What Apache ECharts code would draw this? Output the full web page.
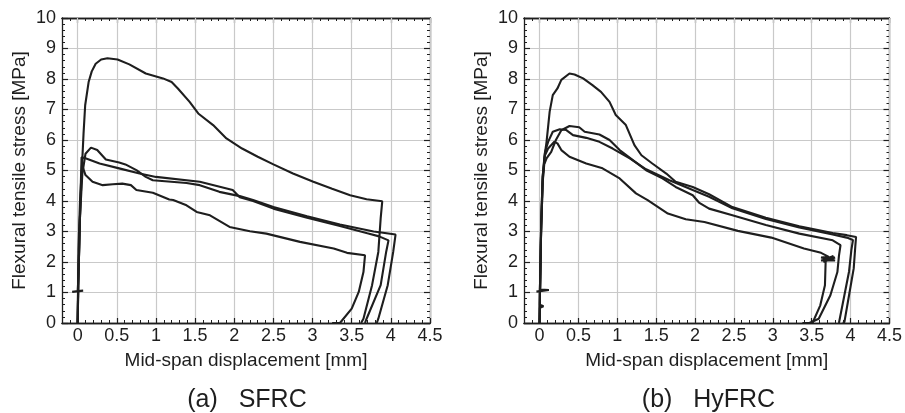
<!DOCTYPE html>
<html>
<head>
<meta charset="utf-8">
<script src="https://cdn.jsdelivr.net/npm/echarts@6/dist/echarts.min.js"></script>
<style>
html,body{margin:0;padding:0;background:#fff;}
#chart{width:905px;height:413px;}
</style>
</head>
<body>
<div id="chart"></div>
<script>
// ---------- axis ticks ----------
const xMajorTicks = [0, 0.5, 1, 1.5, 2, 2.5, 3, 3.5, 4, 4.5];
const xRange = [-0.2, 4.5];
const yRange = [0, 10];

// ---------- panel captions / names ----------
const panelCaptions = ['(a)   SFRC', '(b)   HyFRC'];
const xName = 'Mid-span displacement [mm]';
const yName = 'Flexural tensile stress [MPa]';

// ---------- (a) SFRC curves [displacement mm, stress MPa] ----------
const sfrc1 = [[0,0],[0.005,1.05],[0.01,2.4],[0.03,4.0],[0.054,5.07],[0.075,6.2],[0.096,7.14],[0.14,7.9],[0.18,8.25],[0.23,8.5],[0.3,8.64],[0.38,8.68],[0.51,8.64],[0.66,8.48],[0.87,8.18],[1.09,8.02],[1.2,7.9],[1.28,7.69],[1.43,7.25],[1.54,6.87],[1.73,6.49],[1.9,6.05],[2.1,5.72],[2.3,5.45],[2.5,5.2],[2.75,4.9],[3.01,4.63],[3.25,4.4],[3.48,4.19],[3.69,4.06],[3.89,3.99],[3.87,3.43],[3.84,2.33],[3.76,1.24],[3.65,0.14],[3.62,0]];
const sfrc2 = [[0,0],[0.01,1.5],[0.03,3.5],[0.06,4.9],[0.1,5.55],[0.17,5.75],[0.25,5.67],[0.36,5.36],[0.53,5.26],[0.61,5.2],[0.75,5.01],[0.87,4.79],[0.96,4.68],[1.39,4.59],[1.56,4.52],[1.81,4.3],[2.07,4.16],[2.24,4.03],[2.5,3.8],[2.93,3.5],[3.35,3.23],[3.78,3.0],[3.9,2.96],[4.06,2.9],[4.03,2.33],[3.96,1.24],[3.84,0.14],[3.82,0]];
const sfrc3 = [[0,0],[0.01,1.5],[0.03,3.5],[0.045,5.0],[0.05,5.43],[0.1,5.4],[0.28,5.23],[0.53,5.07],[0.79,4.9],[1.0,4.79],[1.56,4.63],[1.98,4.36],[2.07,4.12],[2.24,4.0],[2.5,3.75],[2.93,3.45],[3.35,3.18],[3.7,2.94],[3.85,2.84],[3.97,2.71],[3.94,2.33],[3.87,1.24],[3.69,0.14],[3.67,0]];
const sfrc4 = [[0,0],[0.005,1.05],[-0.07,1.02],[0.07,1.06],[0.0,1.05],[0.01,1.5],[0.03,3.5],[0.05,4.8],[0.06,5.15],[0.1,4.85],[0.19,4.63],[0.32,4.52],[0.45,4.55],[0.57,4.57],[0.68,4.52],[0.75,4.36],[0.96,4.27],[1.17,4.05],[1.22,4.03],[1.39,3.86],[1.52,3.64],[1.69,3.53],[1.94,3.15],[2.2,3.01],[2.41,2.93],[2.84,2.66],[3.27,2.44],[3.44,2.3],[3.67,2.22],[3.65,1.67],[3.59,1.02],[3.5,0.47],[3.35,0],[3.25,0]];

// ---------- (b) HyFRC curves [displacement mm, stress MPa] ----------
const hyfrc1 = [[0,0],[0.005,1.1],[0.015,2.5],[0.03,3.8],[0.04,4.63],[0.06,5.4],[0.09,5.94],[0.13,6.93],[0.17,7.47],[0.23,7.69],[0.28,7.97],[0.385,8.18],[0.45,8.15],[0.56,8.02],[0.68,7.8],[0.79,7.58],[0.9,7.25],[0.98,6.82],[1.11,6.49],[1.22,5.83],[1.31,5.5],[1.45,5.23],[1.63,4.9],[1.75,4.63],[1.97,4.46],[2.18,4.22],[2.48,3.8],[2.91,3.45],[3.34,3.17],[3.77,2.95],[3.95,2.88],[4.07,2.82],[4.06,2.5],[4.04,1.79],[3.98,0.91],[3.92,0.03],[3.9,0]];
const hyfrc2 = [[0,0],[0.005,1.1],[0.02,3.0],[0.04,4.6],[0.06,5.2],[0.09,5.4],[0.15,5.61],[0.21,6.0],[0.28,6.32],[0.385,6.46],[0.51,6.42],[0.58,6.27],[0.77,6.18],[0.9,6.0],[1.03,5.67],[1.2,5.34],[1.37,5.01],[1.58,4.74],[1.75,4.46],[1.97,4.19],[2.05,3.95],[2.18,3.75],[2.48,3.53],[2.91,3.21],[3.34,2.93],[3.77,2.71],[3.87,2.55],[3.85,2.2],[3.83,1.67],[3.74,0.91],[3.59,0.14],[3.47,0]];
const hyfrc3 = [[0,0],[0.005,1.1],[0.02,3.2],[0.04,4.8],[0.07,5.6],[0.11,5.94],[0.17,6.27],[0.26,6.35],[0.34,6.33],[0.43,6.16],[0.6,6.07],[0.77,5.94],[0.94,5.72],[1.16,5.4],[1.37,5.04],[1.67,4.68],[1.97,4.36],[2.18,4.14],[2.48,3.76],[2.91,3.41],[3.34,3.13],[3.77,2.9],[3.95,2.8],[4.03,2.72],[4.01,2.4],[3.98,1.69],[3.92,0.91],[3.85,0]];
const hyfrc4 = [[0,0],[0.005,0.5],[0.05,0.55],[0.005,0.6],[0.005,1.05],[-0.04,1.03],[0.12,1.08],[0.01,1.1],[0.02,3.2],[0.04,4.8],[0.07,5.5],[0.11,5.72],[0.19,5.94],[0.23,5.89],[0.28,5.67],[0.385,5.45],[0.6,5.23],[0.81,5.07],[1.03,4.74],[1.24,4.25],[1.39,4.03],[1.65,3.59],[1.88,3.4],[2.12,3.31],[2.55,3.02],[2.98,2.8],[3.4,2.44],[3.62,2.3],[3.72,2.17],[3.62,2.15],[3.8,2.05],[3.62,2.05],[3.8,2.15],[3.65,2.0],[3.78,2.2],[3.68,2.1],[3.67,1.24],[3.61,0.58],[3.51,0],[3.38,0]];

const panelSeries = [[sfrc1, sfrc2, sfrc3, sfrc4], [hyfrc1, hyfrc2, hyfrc3, hyfrc4]];

// ---------- styles ----------
const FONT = '"Liberation Sans", Arial, Helvetica, sans-serif';
const INK = '#1e1e1e';
const GRIDC = '#c9c9c9';

const grids = [
  {left: 62, top: 18, width: 368, height: 305},
  {left: 524, top: 18, width: 367, height: 305}
];

const xAxes = [], yAxes = [], series = [], graphics = [];
grids.forEach((g, gi) => {
  const base = {
    type: 'value', gridIndex: gi, min: xRange[0], max: xRange[1], interval: 0.1,
    axisLine: {show: true, onZero: false, lineStyle: {color: INK, width: 1.3}},
    splitLine: {show: false}, axisLabel: {show: false}, axisTick: {show: false}
  };
  xAxes.push(Object.assign({}, base, {
    position: 'bottom',
    name: xName, nameLocation: 'middle', nameGap: 28,
    nameTextStyle: {fontFamily: FONT, fontSize: 19, color: INK},
    axisTick: {show: true, inside: true, length: 5, customValues: xMajorTicks, lineStyle: {color: INK, width: 1.2}},
    axisLabel: {show: true, customValues: xMajorTicks, margin: 4, fontFamily: FONT, fontSize: 18, color: INK},
    splitLine: {show: true, lineStyle: {color: GRIDC, width: 1.2}},
    z: 3
  }));
  xAxes.push(Object.assign({}, base, {
    position: 'bottom',
    axisTick: {show: true, inside: true, length: 3, lineStyle: {color: INK, width: 1}}
  }));
  xAxes.push(Object.assign({}, base, {
    position: 'top',
    axisTick: {show: true, inside: true, length: 5, customValues: xMajorTicks, lineStyle: {color: INK, width: 1.2}}
  }));
  xAxes.push(Object.assign({}, base, {
    position: 'top',
    axisTick: {show: true, inside: true, length: 3, lineStyle: {color: INK, width: 1}}
  }));

  const ybase = {
    type: 'value', gridIndex: gi, min: yRange[0], max: yRange[1], interval: 1,
    axisLine: {show: true, onZero: false, lineStyle: {color: INK, width: 1.3}},
    axisTick: {show: true, inside: true, length: 6, lineStyle: {color: INK, width: 1.2}},
    minorTick: {show: true, splitNumber: 5, length: 3, lineStyle: {color: INK, width: 1}}
  };
  yAxes.push(Object.assign({}, ybase, {
    position: 'left',
    name: yName, nameLocation: 'middle', nameGap: 33,
    nameTextStyle: {fontFamily: FONT, fontSize: 19, color: INK},
    axisLabel: {show: true, margin: 6, fontFamily: FONT, fontSize: 18, color: INK},
    splitLine: {show: true, lineStyle: {color: GRIDC, width: 1.2}}
  }));
  yAxes.push(Object.assign({}, ybase, {
    position: 'right',
    axisLabel: {show: false},
    splitLine: {show: false}
  }));

  panelSeries[gi].forEach((d) => {
    series.push({
      type: 'line', xAxisIndex: gi * 4, yAxisIndex: gi * 2,
      data: d, showSymbol: false, symbol: 'none', smooth: false,
      lineStyle: {color: INK, width: 2.1}, z: 5, silent: true
    });
  });

  graphics.push({
    type: 'text',
    x: g.left + g.width / 2 + 1, y: 400,
    style: {text: panelCaptions[gi], fontFamily: FONT, fontSize: 25, fill: INK, textAlign: 'center', textVerticalAlign: 'middle'}
  });
});

const chart = echarts.init(document.getElementById('chart'), null, {renderer: 'canvas'});
chart.setOption({
  animation: false,
  backgroundColor: '#ffffff',
  grid: grids,
  xAxis: xAxes,
  yAxis: yAxes,
  series: series,
  graphic: graphics
});
</script>
</body>
</html>
